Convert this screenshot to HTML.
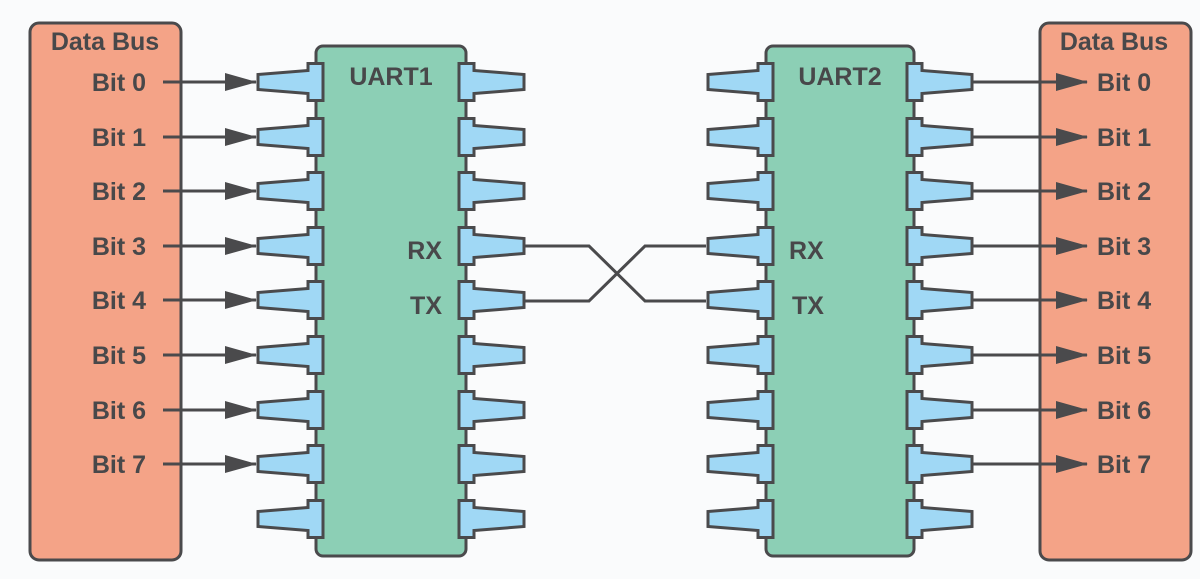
<!DOCTYPE html>
<html><head><meta charset="utf-8"><style>
html,body{margin:0;padding:0;background:#fff;}
svg{display:block;}
text{font-family:"Liberation Sans",sans-serif;font-weight:bold;fill:#48484a;font-size:25px;}
</style></head><body>
<svg width="1200" height="579" viewBox="0 0 1200 579" xmlns="http://www.w3.org/2000/svg">
<defs>
<path id="pin" d="M7,-18.5 H-8 V-11.5 L-58,-7.5 V7.5 L-8,11.5 V18.5 H7 Z" fill="#a0d8f5" stroke="#4a4a4c" stroke-width="3" stroke-linejoin="miter"/>
<marker id="ah" markerWidth="32" markerHeight="20" refX="31" refY="10" orient="auto" markerUnits="userSpaceOnUse"><path d="M0,1 L32,10 L0,19 Z" fill="#4a4a4c"/></marker>
</defs>
<rect x="0" y="0" width="1200" height="579" fill="#fafbfc"/>
<rect x="30" y="23" width="151" height="537" rx="9" fill="#f4a387" stroke="#4a4a4c" stroke-width="3"/>
<rect x="1040" y="23" width="151" height="537" rx="9" fill="#f4a387" stroke="#4a4a4c" stroke-width="3"/>
<text x="105" y="50" text-anchor="middle">Data Bus</text>
<text x="1114" y="50" text-anchor="middle">Data Bus</text>
<rect x="316" y="46" width="150" height="510" rx="7" fill="#8ccfb5" stroke="#4a4a4c" stroke-width="3"/>
<rect x="766" y="46" width="148" height="510" rx="7" fill="#8ccfb5" stroke="#4a4a4c" stroke-width="3"/>
<text x="391" y="85" text-anchor="middle">UART1</text>
<text x="840" y="85" text-anchor="middle">UART2</text>
<text x="442" y="259" text-anchor="end">RX</text>
<text x="442" y="314" text-anchor="end">TX</text>
<text x="789" y="259">RX</text>
<text x="792" y="314">TX</text>
<g>
<use href="#pin" transform="translate(316,82)"/>
<use href="#pin" transform="translate(316,137)"/>
<use href="#pin" transform="translate(316,191)"/>
<use href="#pin" transform="translate(316,246)"/>
<use href="#pin" transform="translate(316,300)"/>
<use href="#pin" transform="translate(316,355)"/>
<use href="#pin" transform="translate(316,410)"/>
<use href="#pin" transform="translate(316,464)"/>
<use href="#pin" transform="translate(316,519)"/>
</g>
<g>
<use href="#pin" transform="translate(466,82) scale(-1,1)"/>
<use href="#pin" transform="translate(466,137) scale(-1,1)"/>
<use href="#pin" transform="translate(466,191) scale(-1,1)"/>
<use href="#pin" transform="translate(466,246) scale(-1,1)"/>
<use href="#pin" transform="translate(466,300) scale(-1,1)"/>
<use href="#pin" transform="translate(466,355) scale(-1,1)"/>
<use href="#pin" transform="translate(466,410) scale(-1,1)"/>
<use href="#pin" transform="translate(466,464) scale(-1,1)"/>
<use href="#pin" transform="translate(466,519) scale(-1,1)"/>
</g>
<g>
<use href="#pin" transform="translate(766,82)"/>
<use href="#pin" transform="translate(766,137)"/>
<use href="#pin" transform="translate(766,191)"/>
<use href="#pin" transform="translate(766,246)"/>
<use href="#pin" transform="translate(766,300)"/>
<use href="#pin" transform="translate(766,355)"/>
<use href="#pin" transform="translate(766,410)"/>
<use href="#pin" transform="translate(766,464)"/>
<use href="#pin" transform="translate(766,519)"/>
</g>
<g>
<use href="#pin" transform="translate(914,82) scale(-1,1)"/>
<use href="#pin" transform="translate(914,137) scale(-1,1)"/>
<use href="#pin" transform="translate(914,191) scale(-1,1)"/>
<use href="#pin" transform="translate(914,246) scale(-1,1)"/>
<use href="#pin" transform="translate(914,300) scale(-1,1)"/>
<use href="#pin" transform="translate(914,355) scale(-1,1)"/>
<use href="#pin" transform="translate(914,410) scale(-1,1)"/>
<use href="#pin" transform="translate(914,464) scale(-1,1)"/>
<use href="#pin" transform="translate(914,519) scale(-1,1)"/>
</g>
<g stroke="#4a4a4c" stroke-width="3" fill="none">
<polyline points="524,246 589,246 645,301 706,301"/>
<polyline points="524,301 589,301 645,246 706,246"/>
</g>
<g stroke="#4a4a4c" stroke-width="3" marker-end="url(#ah)">
<line x1="163" y1="82" x2="256" y2="82"/>
<line x1="163" y1="137" x2="256" y2="137"/>
<line x1="163" y1="191" x2="256" y2="191"/>
<line x1="163" y1="246" x2="256" y2="246"/>
<line x1="163" y1="300" x2="256" y2="300"/>
<line x1="163" y1="355" x2="256" y2="355"/>
<line x1="163" y1="410" x2="256" y2="410"/>
<line x1="163" y1="464" x2="256" y2="464"/>
<line x1="973" y1="82" x2="1087" y2="82"/>
<line x1="973" y1="137" x2="1087" y2="137"/>
<line x1="973" y1="191" x2="1087" y2="191"/>
<line x1="973" y1="246" x2="1087" y2="246"/>
<line x1="973" y1="300" x2="1087" y2="300"/>
<line x1="973" y1="355" x2="1087" y2="355"/>
<line x1="973" y1="410" x2="1087" y2="410"/>
<line x1="973" y1="464" x2="1087" y2="464"/>
</g>
<g text-anchor="end">
<text x="146" y="91">Bit 0</text>
<text x="146" y="146">Bit 1</text>
<text x="146" y="200">Bit 2</text>
<text x="146" y="255">Bit 3</text>
<text x="146" y="309">Bit 4</text>
<text x="146" y="364">Bit 5</text>
<text x="146" y="419">Bit 6</text>
<text x="146" y="473">Bit 7</text>
</g>
<g>
<text x="1097" y="91">Bit 0</text>
<text x="1097" y="146">Bit 1</text>
<text x="1097" y="200">Bit 2</text>
<text x="1097" y="255">Bit 3</text>
<text x="1097" y="309">Bit 4</text>
<text x="1097" y="364">Bit 5</text>
<text x="1097" y="419">Bit 6</text>
<text x="1097" y="473">Bit 7</text>
</g>
</svg>
</body></html>
